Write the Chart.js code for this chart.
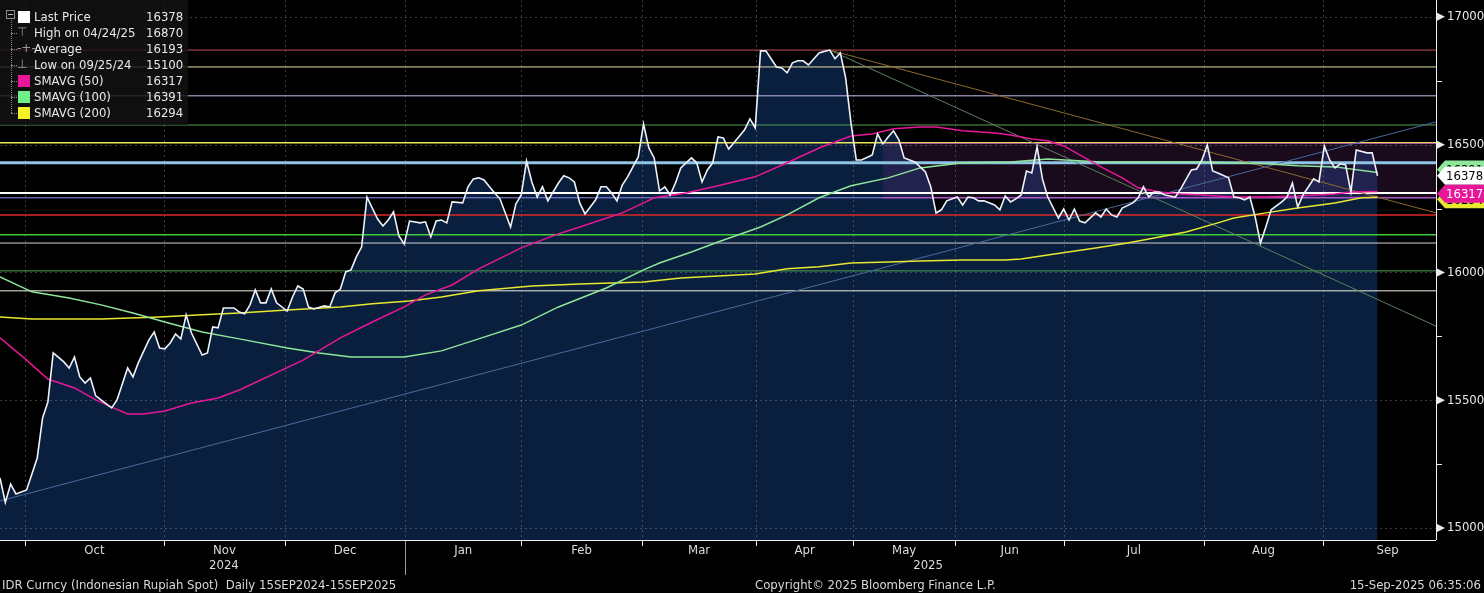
<!DOCTYPE html>
<html>
<head>
<meta charset="utf-8">
<script src="https://cdn.jsdelivr.net/npm/chart.js@4.4.1/dist/chart.umd.min.js"></script>
<style>
	html, body { margin: 0; padding: 0; background: #000; overflow: hidden; }
	#wrap { position: relative; width: 1484px; height: 593px; }
	#legend {
		position: absolute; left: 0; top: 0; width: 188px; height: 125px;
		background: rgba(18, 18, 18, 0.82);
		font: 13px "Liberation Sans Narrow", "DejaVu Sans Condensed", sans-serif;
		color: #e8e8e8;
	}
	#legend .row { position: absolute; left: 0; width: 188px; height: 16px; line-height: 16px; }
	#legend .lbl { position: absolute; left: 34px; }
	#legend .val { position: absolute; left: 146px; }
	#legend .ico { position: absolute; left: 18px; top: 2px; width: 12px; height: 12px; }
	#legend .glyph { position: absolute; left: 17px; top: 0; color: #9a9a9a; font: 12px "DejaVu Sans", sans-serif; }
	#legend .tree { position: absolute; left: 11px; top: 20px; height: 93px; border-left: 1px dotted #8a8a8a; }
	#legend .branch { position: absolute; left: 11px; width: 6px; border-top: 1px dotted #8a8a8a; }
	#legend .box {
		position: absolute; left: 6px; top: 10px; width: 9px; height: 9px;
		border: 1px solid #8a8a8a; box-sizing: border-box;
	}
	#legend .box:after { content: ""; position: absolute; left: 1px; right: 1px; top: 3px; border-top: 1px solid #bbb; }
	.foot {
		position: absolute; top: 577px; height: 16px; line-height: 16px; white-space: pre;
		font: 13px "Liberation Sans Narrow", "DejaVu Sans Condensed", sans-serif; color: #d8d8d8;
	}
</style>
</head>
<body>
<div id="wrap">
	<canvas id="bbChart"></canvas>
	<div id="legend"><div class="tree"></div><div class="box"></div></div>
	<div class="foot" style="left:2px">IDR Curncy (Indonesian Rupiah Spot)  Daily 15SEP2024-15SEP2025</div>
	<div class="foot" style="left:755px">Copyright© 2025 Bloomberg Finance L.P.</div>
	<div class="foot" style="right:3px">15-Sep-2025 06:35:06</div>
</div>
<script>
// trading-session index of each price vertex, and the price there
const priceDay = [0, 1, 2, 3, 5, 7, 8, 9, 10, 12, 13, 14, 15, 16, 17, 18, 19, 21, 22, 24, 25, 26, 28, 29, 30, 31, 32, 33, 34, 35, 36, 38, 39, 40, 41, 42, 44, 45, 46, 47, 48, 49, 50, 51, 52, 54, 55, 56, 57, 58, 59, 61, 62, 63, 64, 65, 66, 67, 68, 69, 71, 72, 73, 74, 75, 76, 77, 79, 80, 81, 82, 83, 84, 85, 87, 88, 89, 90, 91, 93, 94, 96, 97, 98, 99, 100, 101, 102, 103, 105, 106, 107, 108, 109, 110, 112, 113, 114, 115, 116, 117, 118, 120, 121, 122, 123, 124, 125, 126, 127, 128, 130, 131, 132, 133, 134, 135, 136, 137, 138, 140, 141, 142, 143, 144, 146, 147, 148, 149, 150, 151, 152, 154, 155, 156, 157, 158, 159, 160, 161, 162, 164, 165, 166, 167, 168, 169, 170, 172, 173, 174, 175, 176, 177, 178, 180, 181, 182, 183, 184, 185, 187, 188, 189, 190, 191, 192, 193, 194, 195, 196, 197, 199, 200, 201, 202, 203, 204, 206, 207, 208, 209, 210, 211, 213, 214, 215, 216, 217, 218, 219, 221, 222, 224, 225, 226, 227, 228, 229, 231, 232, 233, 234, 235, 236, 237, 238, 239, 241, 242, 243, 244, 245, 247, 248, 249, 250, 251, 252, 253, 254, 255, 257, 258, 259];
const priceVal = [15196, 15100, 15172, 15133, 15149, 15274, 15430, 15493, 15685, 15650, 15626, 15669, 15591, 15567, 15587, 15517, 15501, 15470, 15501, 15626, 15591, 15646, 15736, 15767, 15704, 15701, 15724, 15759, 15740, 15834, 15763, 15677, 15685, 15787, 15783, 15861, 15861, 15845, 15838, 15873, 15931, 15881, 15881, 15935, 15881, 15849, 15904, 15947, 15935, 15865, 15857, 15869, 15865, 15920, 15935, 16002, 16010, 16061, 16100, 16295, 16209, 16182, 16205, 16237, 16143, 16111, 16201, 16194, 16198, 16139, 16201, 16205, 16194, 16276, 16272, 16335, 16366, 16370, 16362, 16311, 16288, 16178, 16268, 16303, 16436, 16354, 16295, 16335, 16280, 16350, 16378, 16370, 16354, 16272, 16229, 16284, 16335, 16335, 16311, 16280, 16342, 16374, 16452, 16581, 16487, 16448, 16319, 16335, 16303, 16350, 16409, 16448, 16429, 16354, 16401, 16429, 16530, 16526, 16483, 16507, 16558, 16601, 16566, 16867, 16867, 16804, 16800, 16781, 16820, 16828, 16828, 16812, 16859, 16865, 16870, 16836, 16859, 16761, 16585, 16440, 16440, 16460, 16542, 16503, 16530, 16554, 16519, 16448, 16432, 16413, 16393, 16335, 16233, 16245, 16280, 16295, 16264, 16295, 16292, 16280, 16280, 16264, 16245, 16299, 16276, 16288, 16303, 16397, 16389, 16491, 16366, 16295, 16213, 16248, 16205, 16248, 16201, 16194, 16233, 16217, 16248, 16225, 16217, 16252, 16272, 16292, 16335, 16295, 16315, 16315, 16303, 16295, 16327, 16401, 16405, 16440, 16499, 16397, 16389, 16370, 16295, 16292, 16284, 16295, 16217, 16115, 16178, 16245, 16276, 16295, 16350, 16256, 16303, 16366, 16354, 16495, 16440, 16409, 16425, 16421, 16315, 16479, 16468, 16468, 16378];

const sma50Day = [0, 5, 9, 14, 18, 21, 24, 27, 31, 36, 41, 45, 57, 64, 70, 76, 80, 85, 90, 98, 105, 109, 117, 121, 123, 129, 135, 142, 148, 154, 160, 164, 168, 173, 176, 181, 187, 190, 194, 197, 200, 203, 207, 211, 214, 218, 222, 226, 232, 238, 244, 251, 254, 259];
const sma50Val = [15744, 15657, 15583, 15548, 15501, 15473, 15446, 15446, 15458, 15489, 15509, 15540, 15657, 15744, 15806, 15865, 15912, 15951, 16014, 16096, 16151, 16178, 16233, 16272, 16292, 16311, 16339, 16374, 16429, 16487, 16534, 16542, 16562, 16569, 16569, 16554, 16546, 16538, 16522, 16515, 16495, 16460, 16413, 16370, 16331, 16315, 16307, 16303, 16295, 16295, 16299, 16307, 16315, 16317];

const sma100Day = [0, 6, 13, 19, 25, 31, 38, 45, 54, 60, 66, 76, 83, 90, 98, 105, 114, 121, 124, 130, 135, 143, 148, 154, 160, 167, 173, 181, 190, 197, 207, 226, 238, 244, 251, 259];
const sma100Val = [15982, 15924, 15900, 15873, 15841, 15806, 15767, 15740, 15704, 15685, 15669, 15669, 15693, 15740, 15794, 15865, 15939, 16010, 16037, 16080, 16119, 16178, 16225, 16292, 16339, 16370, 16409, 16429, 16432, 16444, 16432, 16432, 16425, 16417, 16413, 16391];

const sma200Day = [0, 6, 19, 30, 38, 45, 54, 64, 70, 77, 83, 90, 100, 109, 121, 128, 135, 142, 148, 154, 160, 167, 173, 181, 189, 192, 197, 206, 212, 218, 223, 229, 232, 238, 244, 251, 256, 259];
const sma200Val = [15826, 15818, 15818, 15826, 15834, 15841, 15853, 15865, 15877, 15888, 15904, 15928, 15947, 15955, 15963, 15978, 15986, 15994, 16014, 16022, 16037, 16041, 16045, 16049, 16049, 16053, 16068, 16096, 16115, 16139, 16158, 16194, 16213, 16233, 16252, 16272, 16292, 16294];

// horizontal study lines
const levelVals = [16870, 16804, 16691, 16577, 16507, 16429, 16311, 16292, 16225, 16147, 16115, 16006, 15928];
// shaded zone: from session, upper and lower bound
const zoneFrom = 166;
const zoneVals = [16505, 16292];
// trend lines: start session, start value, end value (to right edge)
const trendFrom = [0, 156, 156];
const trendFromVal = [15106, 16870, 16870];
const trendToVal = [16589, 16233, 15790];

const monthNames = ["Oct", "Nov", "Dec", "Jan", "Feb", "Mar", "Apr", "May", "Jun", "Jul", "Aug", "Sep"];
const monthStart = [4.7, 30.8, 53.6, 76.2, 98.0, 120.7, 142.2, 160.4, 179.6, 200.1, 226.3, 248.8, 273];
const yearNames = ["2024", "2025"];
const yearAt = [42.1, 174.5];
const yTicks = [15000, 15500, 16000, 16500, 17000];
const yMinor = [15250, 15750, 16250, 16750];

const legendLabels = ["Last Price", "High on 04/24/25", "Average", "Low on 09/25/24", "SMAVG (50)", "SMAVG (100)", "SMAVG (200)"];
const legendValues = [16378, 16870, 16193, 15100, 16317, 16391, 16294];

const xMax = 270;
const yMin = 14953;
const yMax = 17066;

const FONT = '"Liberation Sans Narrow", "DejaVu Sans Condensed", sans-serif';
const levelColors = ["#c0504d", "#e6dfa6", "#c8b8f0", "#5aa05a", "#e8e85a", "#8fc4e4", "#ffffff", "#8c8cf0", "#e02828", "#3ccc3c", "#d0d0d0", "#4fa04f", "#f0f0e0"];
const levelWidths = [1, 1, 1, 1, 1.5, 3, 2, 1, 1.5, 1.5, 1, 1, 1];
const trendColors = ["#4a6a9c", "#8c6a2c", "#5e7f60"];
const C_SMA50 = "#e8179a";
const C_SMA100 = "#8ee69a";
const C_SMA200 = "#e8e830";

function pts(days, vals) {
	return days.map((d, i) => ({ x: d, y: vals[i] }));
}

// legend (html text)
const legendIcons = ["sq:#ffffff", "g:\u22A4", "g:-+-", "g:\u22A5", "sq:" + C_SMA50, "sq:#6ef08a", "sq:#f2f224"];
const legendEl = document.getElementById("legend");
legendLabels.forEach((lbl, i) => {
	const row = document.createElement("div");
	row.className = "row";
	row.style.top = 9 + i * 16 + "px";
	const ico = legendIcons[i];
	const icoHtml = ico.startsWith("sq:")
		? '<span class="ico" style="background:' + ico.slice(3) + '"></span>'
		: '<span class="glyph">' + ico.slice(2) + "</span>";
	row.innerHTML = icoHtml + '<span class="lbl">' + lbl + '</span><span class="val">' + legendValues[i] + "</span>";
	legendEl.appendChild(row);
	const br = document.createElement("div");
	br.className = "branch";
	br.style.top = 17 + i * 16 + "px";
	if (i > 0) legendEl.appendChild(br);
});

const datasets = [];
const line = (data, color, width, order, extra) =>
	Object.assign({ data, borderColor: color, borderWidth: width, pointRadius: 0, fill: false, tension: 0, order }, extra || {});

datasets.push(line(pts(priceDay, priceVal), "#eef2fa", 1.6, 0));
datasets.push(line(pts(sma50Day, sma50Val), C_SMA50, 1.5, 10));
datasets.push(line(pts(sma100Day, sma100Val), C_SMA100, 1.5, 20));
datasets.push(line(pts(sma200Day, sma200Val), C_SMA200, 1.5, 30));
trendFrom.forEach((d, i) => {
	datasets.push(line([{ x: d, y: trendFromVal[i] }, { x: xMax, y: trendToVal[i] }], trendColors[i], 1, 40));
});
levelVals.forEach((v, i) => {
	datasets.push(line([{ x: 0, y: v }, { x: xMax, y: v }], levelColors[i], levelWidths[i], 50));
});
datasets.push(line([{ x: zoneFrom, y: zoneVals[0] }, { x: xMax, y: zoneVals[0] }], "rgba(200,70,200,0.7)", 1, 45,
	{ fill: "+1", backgroundColor: "rgba(150,60,165,0.17)" }));
datasets.push(line([{ x: zoneFrom, y: zoneVals[1] }, { x: xMax, y: zoneVals[1] }], "rgba(210,70,210,0.9)", 1, 44));
datasets.push(line(pts(priceDay, priceVal), "rgba(0,0,0,0)", 0, 100,
	{ fill: "start", backgroundColor: "#0a1f3d" }));

const bbPlugin = {
	id: "bb",
	beforeDatasetsDraw(chart) {
		const { ctx, chartArea: a, scales: { x, y } } = chart;
		ctx.save();
		ctx.strokeStyle = "rgba(170,170,170,0.35)";
		ctx.lineWidth = 1;
		ctx.setLineDash([2, 3]);
		ctx.beginPath();
		yTicks.forEach((v) => {
			const py = Math.round(y.getPixelForValue(v)) + 0.5;
			ctx.moveTo(a.left, py);
			ctx.lineTo(a.right, py);
		});
		monthStart.slice(0, -1).forEach((v) => {
			const px = Math.round(x.getPixelForValue(v)) + 0.5;
			ctx.moveTo(px, a.top);
			ctx.lineTo(px, a.bottom);
		});
		ctx.stroke();
		ctx.restore();
	},
	afterDraw(chart) {
		const { ctx, chartArea: a, scales: { x, y } } = chart;
		ctx.save();
		// axis lines
		ctx.strokeStyle = "#f0f0f0";
		ctx.lineWidth = 1;
		ctx.beginPath();
		ctx.moveTo(a.left, Math.round(a.bottom) + 0.5);
		ctx.lineTo(a.right, Math.round(a.bottom) + 0.5);
		ctx.moveTo(Math.round(a.right) + 0.5, a.top);
		ctx.lineTo(Math.round(a.right) + 0.5, a.bottom);
		// month ticks
		monthStart.slice(0, -1).forEach((v) => {
			const px = Math.round(x.getPixelForValue(v)) + 0.5;
			ctx.moveTo(px, a.bottom);
			ctx.lineTo(px, a.bottom + 6);
		});
		// minor y ticks
		yMinor.forEach((v) => {
			const py = Math.round(y.getPixelForValue(v)) + 0.5;
			ctx.moveTo(a.right, py);
			ctx.lineTo(a.right + 6, py);
		});
		ctx.stroke();
		// year separator
		ctx.strokeStyle = "#9a9a9a";
		ctx.beginPath();
		const sx = Math.round(x.getPixelForValue(monthStart[3])) + 0.5;
		ctx.moveTo(sx, a.bottom + 1);
		ctx.lineTo(sx, a.bottom + 35);
		ctx.stroke();
		// triangles at major ticks
		ctx.fillStyle = "#e8e8e8";
		yTicks.forEach((v) => {
			const py = y.getPixelForValue(v);
			ctx.beginPath();
			ctx.moveTo(a.right + 1, py - 4);
			ctx.lineTo(a.right + 9, py);
			ctx.lineTo(a.right + 1, py + 4);
			ctx.closePath();
			ctx.fill();
		});
		// year labels
		ctx.font = "13px " + FONT;
		ctx.fillStyle = "#dcdcdc";
		ctx.textAlign = "center";
		ctx.textBaseline = "middle";
		yearNames.forEach((t, i) => ctx.fillText(t, x.getPixelForValue(yearAt[i]), a.bottom + 26));
		// last value tags
		const h = 18;
		const tag = (val, py, fill, txt) => {
			const x0 = a.right + 1;
			ctx.beginPath();
			ctx.moveTo(x0, py);
			ctx.lineTo(x0 + 8, py - h / 2);
			ctx.lineTo(chart.width, py - h / 2);
			ctx.lineTo(chart.width, py + h / 2);
			ctx.lineTo(x0 + 8, py + h / 2);
			ctx.closePath();
			ctx.fillStyle = fill;
			ctx.fill();
			ctx.fillStyle = txt;
			ctx.textAlign = "left";
			ctx.font = "13px " + FONT;
			ctx.fillText(String(val), x0 + 9, py + 1);
		};
		const lastOf = (arr) => arr[arr.length - 1];
		const yLast = y.getPixelForValue(lastOf(priceVal));
		const y50 = Math.max(y.getPixelForValue(lastOf(sma50Val)), yLast + h);
		tag(lastOf(sma100Val), y.getPixelForValue(lastOf(sma100Val)) - 3, C_SMA100, "#000");
		tag(lastOf(sma200Val), y.getPixelForValue(lastOf(sma200Val)) + 2, C_SMA200, "#000");
		tag(lastOf(priceVal), yLast, "#ffffff", "#000");
		tag(lastOf(sma50Val), y50, C_SMA50, "#fff");
		ctx.restore();
	},
};

const monthMid = monthNames.map((_, i) => (monthStart[i] + monthStart[i + 1]) / 2);
const noPad = (s) => { s.paddingTop = 0; s.paddingBottom = 0; s.paddingLeft = 0; s.paddingRight = 0; };

new Chart(document.getElementById("bbChart"), {
	type: "line",
	data: { datasets },
	options: {
		responsive: true,
		maintainAspectRatio: false,
		animation: false,
		layout: { padding: 0 },
		plugins: {
			legend: { display: false },
			tooltip: { enabled: false },
			filler: { drawTime: "beforeDatasetsDraw" },
		},
		scales: {
			x: {
				type: "linear",
				min: 0,
				max: xMax,
				afterBuildTicks: (s) => { s.ticks = monthMid.map((v) => ({ value: v })); },
				afterFit: (s) => { s.height = 53; noPad(s); },
				grid: { display: false, drawTicks: false },
				border: { display: false },
				ticks: {
					color: "#dcdcdc",
					font: { family: FONT, size: 13 },
					padding: 3,
					maxRotation: 0,
					autoSkip: false,
					callback: (v, i) => monthNames[i],
				},
			},
			y: {
				type: "linear",
				position: "right",
				min: yMin,
				max: yMax,
				afterBuildTicks: (s) => { s.ticks = yTicks.map((v) => ({ value: v })); },
				afterFit: (s) => { s.width = 48; noPad(s); },
				grid: { display: false, drawTicks: false },
				border: { display: false },
				ticks: {
					color: "#e8e8e8",
					font: { family: FONT, size: 13 },
					padding: 11,
					callback: (v) => String(v),
				},
			},
		},
	},
	plugins: [bbPlugin],
});
</script>
</body>
</html>
